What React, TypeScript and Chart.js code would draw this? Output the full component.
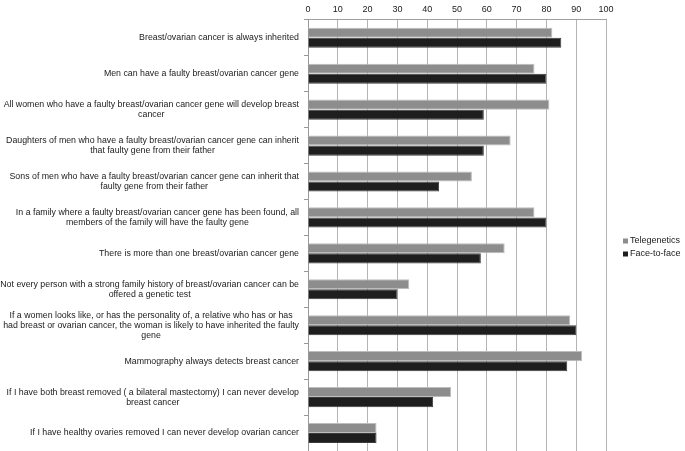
import React, { useEffect, useRef } from "react";
import { Chart, registerables } from "chart.js";

Chart.register(...registerables);

const categories: string[][] = [
  ["Breast/ovarian cancer is always inherited"],
  ["Men can have a faulty breast/ovarian cancer gene"],
  ["All women who have a faulty breast/ovarian cancer gene will develop breast", "cancer"],
  ["Daughters of men who have a faulty breast/ovarian cancer gene can inherit", "that faulty gene from their father"],
  ["Sons of men who have a faulty breast/ovarian cancer gene can inherit that", "faulty gene from their father"],
  ["In a family where a faulty breast/ovarian cancer gene has been found, all", "members of the family will have the faulty gene"],
  ["There is more than one breast/ovarian cancer gene"],
  ["Not every person with a strong family history of breast/ovarian cancer can be", "offered a genetic test"],
  ["If a women looks like, or has the personality of, a relative who has or has", "had breast or ovarian cancer, the woman is likely to have inherited the faulty", "gene"],
  ["Mammography always detects breast cancer"],
  ["If I have both breast removed ( a bilateral mastectomy) I can never develop", "breast cancer"],
  ["If I have healthy ovaries removed I can never develop ovarian cancer"],
];

const telegenetics: number[] = [82, 76, 81, 68, 55, 76, 66, 34, 88, 92, 48, 23];
const faceToFace: number[] = [85, 80, 59, 59, 44, 80, 58, 30, 90, 87, 42, 23];

const xMin = 0;
const xMax = 100;
const xStep = 10;

const FONT = "'Liberation Sans', Arial, sans-serif";

const labelPlugin = {
  id: "wrappedLabels",
  afterDraw(chart: any) {
    const ctx = chart.ctx;
    const yScale = chart.scales.y;
    const area = chart.chartArea;
    ctx.save();
    ctx.font = `8.8px ${FONT}`;
    ctx.fillStyle = "#1a1a1a";
    ctx.textAlign = "center";
    ctx.textBaseline = "middle";
    const lh = 10;
    categories.forEach((lines, i) => {
      const y = yScale.getPixelForValue(i);
      const w = Math.max(...lines.map((l) => ctx.measureText(l).width));
      const cx = area.left - 9 - w / 2;
      const y0 = y - ((lines.length - 1) * lh) / 2;
      lines.forEach((l, j) => ctx.fillText(l, cx, y0 + j * lh));
    });
    // legend
    const ds = chart.data.datasets;
    const lx = area.right + 17;
    const ly = 241;
    ctx.textAlign = "left";
    ctx.font = `9px ${FONT}`;
    ds.forEach((d: any, k: number) => {
      const yy = ly + k * 13;
      ctx.fillStyle = d.backgroundColor;
      ctx.fillRect(lx, yy - 2.5, 5, 5);
      ctx.fillStyle = "#1a1a1a";
      ctx.fillText(d.label, lx + 7, yy);
    });
    ctx.restore();
  },
};

export default function App() {
  const ref = useRef<HTMLCanvasElement>(null);
  useEffect(() => {
    document.body.style.margin = "0";
    const chart = new Chart(ref.current!, {
      type: "bar",
      data: {
        labels: categories.map((c) => c.join(" ")),
        datasets: [
          {
            label: "Telegenetics",
            data: telegenetics,
            backgroundColor: "#8d8d8d",
            borderColor: "#bdbdbd",
            borderWidth: 1,
          },
          {
            label: "Face-to-face",
            data: faceToFace,
            backgroundColor: "#1e1e1e",
            borderColor: "#3c3c3c",
            borderWidth: 1,
          },
        ],
      },
      options: {
        indexAxis: "y",
        animation: false,
        responsive: false,
        maintainAspectRatio: false,
        layout: { padding: { top: 0, right: 79, bottom: 0, left: 0 } },
        datasets: { bar: { categoryPercentage: 0.56, barPercentage: 1 } },
        plugins: {
          legend: { display: false },
          tooltip: { enabled: false },
        },
        scales: {
          x: {
            position: "top",
            min: xMin,
            max: xMax,
            ticks: {
              stepSize: xStep,
              color: "#1a1a1a",
              font: { family: FONT, size: 9 },
              padding: 4,
            },
            grid: { color: "#b4b4b4", tickLength: 1 },
            border: { color: "#a0a0a0" },
          },
          y: {
            type: "category",
            ticks: { display: false },
            grid: { drawOnChartArea: false, tickLength: 4, color: "#999", offset: true },
            border: { color: "#999" },
            afterFit(scale: any) {
              scale.width = 308;
            },
          },
        },
      },
      plugins: [labelPlugin],
    });
    return () => chart.destroy();
  }, []);
  return <canvas ref={ref} width={685} height={451} style={{ display: "block" }} />;
}
